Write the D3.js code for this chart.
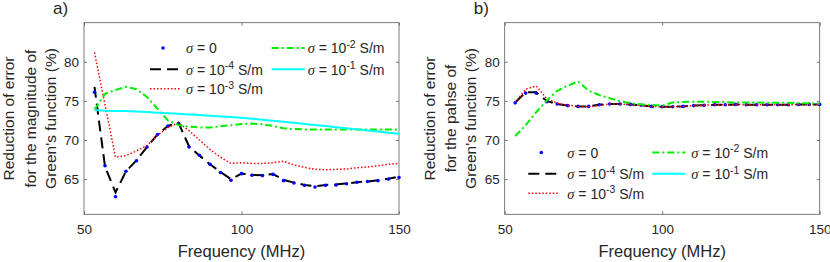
<!DOCTYPE html>
<html>
<head>
<meta charset="utf-8">
<script src="https://cdn.jsdelivr.net/npm/d3@7"></script>
<style>
body { margin: 0; background: #fff; }
text { font-family: "Liberation Sans", Arial, sans-serif; fill: #262626; }
</style>
</head>
<body>
<div id="chart"></div>
<script>
// frequency samples (MHz)
var freq = [53.33, 56.67, 60, 63.33, 66.67, 70, 73.33, 76.67, 80, 83.33,
            86.67, 90, 93.33, 96.67, 100, 103.33, 106.67, 110, 113.33, 116.67,
            120, 123.33, 126.67, 130, 133.33, 136.67, 140, 143.33, 146.67, 150];

// a) magnitude
var magS0 = [76.1, 66.7, 62.75, 66.0, 67.35, 69.1, 70.7, 71.8, 72.1, 69.1,
             68.05, 66.9, 65.85, 64.85, 65.7, 65.5, 65.45, 65.6, 64.8, 64.5,
             64.2, 64.0, 64.2, 64.25, 64.4, 64.6, 64.7, 64.8, 65.0, 65.2];
var magS4 = [76.8, 66.6, 63.3, 66.0, 67.4, 69.1, 70.7, 71.8, 72.2, 69.2,
             68.0, 66.9, 65.9, 65.0, 65.7, 65.55, 65.5, 65.65, 64.9, 64.55,
             64.25, 64.1, 64.25, 64.3, 64.45, 64.6, 64.7, 64.85, 65.05, 65.3];
var magS3 = [81.2, 74.5, 67.8, 68.0, 68.6, 69.3, 70.6, 71.6, 72.2, 71.2,
             70.0, 68.8, 67.8, 67.0, 67.1, 67.0, 67.0, 67.1, 67.3, 66.8,
             66.5, 66.25, 66.2, 66.25, 66.3, 66.45, 66.55, 66.7, 66.9, 67.0];
var magS2 = [73.9, 75.9, 76.4, 76.8, 76.5, 75.5, 74.0, 72.5, 71.9, 71.7,
             71.6, 71.6, 71.75, 71.9, 72.05, 72.1, 72.0, 71.8, 71.5, 71.4,
             71.35, 71.35, 71.35, 71.35, 71.35, 71.35, 71.35, 71.35, 71.35, 71.35];
var magS1 = [73.85, 73.75, 73.7, 73.72, 73.65, 73.58, 73.5, 73.42, 73.35, 73.27,
             73.2, 73.1, 73.02, 72.95, 72.85, 72.72, 72.6, 72.47, 72.33, 72.2,
             72.06, 71.92, 71.78, 71.64, 71.5, 71.36, 71.22, 71.08, 70.94, 70.8];

// b) phase
var phaS0 = [74.75, 76.0, 76.0, 74.9, 74.6, 74.4, 74.3, 74.3, 74.5, 74.6,
             74.6, 74.55, 74.45, 74.3, 74.25, 74.25, 74.3, 74.4, 74.45, 74.5,
             74.5, 74.55, 74.5, 74.5, 74.5, 74.5, 74.5, 74.55, 74.55, 74.55];
var phaS4 = [74.8, 76.1, 76.1, 75.0, 74.6, 74.4, 74.3, 74.3, 74.5, 74.6,
             74.6, 74.55, 74.45, 74.3, 74.25, 74.25, 74.3, 74.4, 74.45, 74.5,
             74.5, 74.55, 74.5, 74.5, 74.5, 74.5, 74.5, 74.55, 74.55, 74.55];
var phaS3 = [74.8, 76.5, 76.9, 75.3, 74.7, 74.45, 74.3, 74.25, 74.4, 74.6,
             74.6, 74.55, 74.45, 74.3, 74.25, 74.25, 74.3, 74.4, 74.45, 74.5,
             74.5, 74.55, 74.5, 74.5, 74.5, 74.5, 74.5, 74.55, 74.55, 74.55];
var phaS2 = [70.5, 71.9, 73.55, 75.05, 76.3, 76.95, 77.5, 76.3, 75.75, 75.35,
             74.95, 74.7, 74.55, 74.5, 74.4, 74.8, 74.85, 74.9, 74.9, 74.85,
             74.85, 74.8, 74.8, 74.8, 74.75, 74.75, 74.75, 74.7, 74.7, 74.65];
var phaS1 = []; // not visible in panel b)

var xTicks = [50, 100, 150],
    yTicks = [65, 70, 75, 80],
    xDomain = [50, 150],
    yDomain = [60.5, 85];

var sigmaLabels = ["0", "-4", "-3", "-2", "-1"];

var width = 830, height = 262;

var styles = [
    {type: "dot", color: "#0000ff"},
    {type: "line", color: "#000000", w: 2, dash: "11,6"},
    {type: "line", color: "#ff0000", w: 1.5, dash: "1.5,2"},
    {type: "line", color: "#00f000", w: 2, dash: "7,3,2,3"},
    {type: "line", color: "#00ffff", w: 2, dash: null}
];

var svg = d3.select("#chart").append("svg")
    .attr("width", width)
    .attr("height", height);

function draw(config) {
    var w = 315, h = 191.6;
    var g = svg.append("g")
        .attr("transform", "translate(" + config.left + "," + config.top + ")");

    var x = d3.scaleLinear().domain(xDomain).range([0, w]),
        y = d3.scaleLinear().domain(yDomain).range([h, 0]);

    // box
    g.append("rect")
        .attr("width", w).attr("height", h)
        .attr("fill", "none")
        .attr("stroke", "#5a5a5a")
        .attr("stroke-width", 0.8);

    // axes, ticks inward
    g.append("g")
        .attr("transform", "translate(0," + h + ")")
        .call(d3.axisBottom(x).tickValues(xTicks).tickSize(-3).tickPadding(10).tickSizeOuter(0));
    g.append("g")
        .call(d3.axisLeft(y).tickValues(yTicks).tickSize(-3).tickPadding(5).tickSizeOuter(0));
    g.append("g")
        .call(d3.axisTop(x).tickValues(xTicks).tickSize(-3).tickFormat("").tickSizeOuter(0));
    g.append("g")
        .attr("transform", "translate(" + w + ",0)")
        .call(d3.axisRight(y).tickValues(yTicks).tickSize(-3).tickFormat("").tickSizeOuter(0));

    g.selectAll(".domain").remove();
    g.selectAll(".tick line").attr("stroke", "#5a5a5a").attr("stroke-width", 0.8);
    g.selectAll(".tick text").style("font-size", "13.5px").attr("fill", "#262626");

    // x label
    g.append("text")
        .attr("x", w / 2)
        .attr("y", h + 42.4)
        .attr("text-anchor", "middle")
        .style("font-size", "16.5px")
        .text("Frequency (MHz)");

    // y label, 3 lines
    var yl = [-70.2, -48.5, -28.5];
    config.ylabel.forEach(function(s, i) {
        g.append("text")
            .attr("transform", "translate(" + yl[i] + "," + (h / 2) + ") rotate(-90)")
            .attr("text-anchor", "middle")
            .style("font-size", "15.5px")
            .text(s);
    });

    // panel tag
    g.append("text")
        .attr("x", -31)
        .attr("y", 14 - config.top)
        .style("font-size", "17px")
        .text(config.tag);

    var line = d3.line()
        .defined(function(d) { return d[1] != null; })
        .x(function(d) { return x(d[0]); })
        .y(function(d) { return y(d[1]); });

    function pairs(vals) {
        return vals.map(function(v, i) { return [freq[i], v]; });
    }

    // black first, then dots, then the rest
    var order = [1, 0, 2, 3, 4];
    order.forEach(function(k) {
        var st = styles[k], pts = pairs(config.data[k]);
        if (st.type == "dot") {
            g.append("g").selectAll("circle")
                .data(pts).enter().append("circle")
                .attr("cx", function(d) { return x(d[0]); })
                .attr("cy", function(d) { return y(d[1]); })
                .attr("r", 1.8)
                .attr("fill", st.color);
        } else {
            g.append("path")
                .datum(pts)
                .attr("fill", "none")
                .attr("stroke", st.color)
                .attr("stroke-width", st.w)
                .attr("stroke-dasharray", st.dash)
                .attr("d", line);
        }
    });

    // legend
    var L = config.legend;
    var rows = [0, 21.3, 40.8];
    var slots = [[0, 0], [0, 1], [0, 2], [1, 0], [1, 1]];
    slots.forEach(function(s, k) {
        var sx = L.x + s[0] * L.col2, sy = L.y + rows[s[1]], st = styles[k];
        if (st.type == "dot") {
            g.append("circle").attr("cx", sx + 13).attr("cy", sy).attr("r", 1.8).attr("fill", st.color);
        } else {
            g.append("line")
                .attr("x1", sx).attr("x2", sx + (s[0] ? 33 : 30))
                .attr("y1", sy).attr("y2", sy)
                .attr("stroke", st.color)
                .attr("stroke-width", st.w)
                .attr("stroke-dasharray", st.dash);
        }
        var t = g.append("text")
            .attr("x", sx + L.tx)
            .attr("y", sy + 5.5)
            .style("font-size", "14px");
        t.append("tspan")
            .style("font-family", "'Liberation Serif', serif")
            .style("font-style", "italic")
            .style("font-size", "14.5px")
            .text("σ");
        if (k == 0) {
            t.append("tspan").text(" = 0");
        } else {
            t.append("tspan").text(" = 10");
            t.append("tspan").attr("dy", -5.5).style("font-size", "10.5px").text(sigmaLabels[k]);
            t.append("tspan").attr("dy", 5.5).text(" S/m");
        }
    });
}

draw({
    left: 84, top: 22.7, tag: "a)",
    ylabel: ["Reduction of error", "for the magnitude of", "Green's function (%)"],
    data: [magS0, magS4, magS3, magS2, magS1],
    legend: {x: 66, y: 25.3, col2: 121.7, tx: 36},
    rows: null
});

draw({
    left: 504.7, top: 22.7, tag: "b)",
    ylabel: ["Reduction of error", "for the pahse of", "Green's function (%)"],
    data: [phaS0, phaS4, phaS3, phaS2, phaS1],
    legend: {x: 23.6, y: 129.8, col2: 124, tx: 39}
});
</script>
</body>
</html>
